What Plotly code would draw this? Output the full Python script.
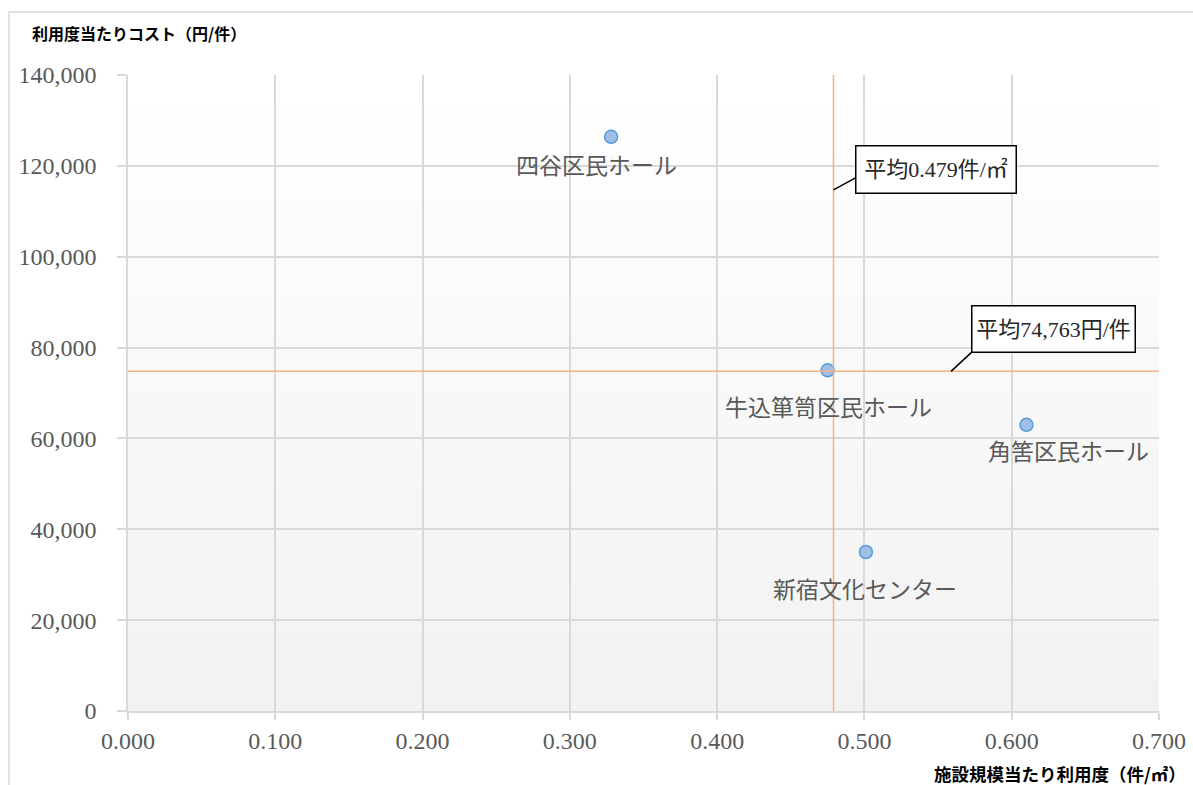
import plotly.graph_objects as go

# ---- data ----
names = ["四谷区民ホール", "牛込箪笥区民ホール", "角筈区民ホール", "新宿文化センター"]
usage = [0.328, 0.475, 0.610, 0.501]          # 件/㎡
cost = [126400, 75000, 63000, 35000]          # 円/件
avg_usage = 0.479
avg_cost = 74763
x_ticks = [0.0, 0.1, 0.2, 0.3, 0.4, 0.5, 0.6, 0.7]
y_ticks = [0, 20000, 40000, 60000, 80000, 100000, 120000, 140000]

# ---- styles ----
label_shift = [(-15, -30), (1, -38), (42, -28), (-1, -38)]  # px offsets of point labels
serif = "Liberation Serif, Noto Sans CJK JP, serif"
gothic = "Noto Sans CJK JP, sans-serif"
grey_text = "#595959"
grid = "#d9d9d9"
avg_color = "#f4b183"

W, H = 1193, 785
L, R, T, B = 128, 34, 75, 74

fig = go.Figure()
fig.add_trace(go.Scatter(
    x=usage, y=cost, mode="markers",
    marker=dict(size=13, color="#9fbfe8", line=dict(color="#5b9bd5", width=1.5)),
    hoverinfo="skip", showlegend=False,
))

shapes = []
# gradient plot background
n = 60
for i in range(n):
    t = i / (n - 1)
    v = round(255 - 13 * t)
    shapes.append(dict(type="rect", xref="paper", yref="paper",
                       x0=0, x1=1, y0=1 - (i + 1) / n, y1=1 - i / n + 0.002,
                       fillcolor=f"rgb({v},{v},{v})", line=dict(width=0), layer="below"))
# outer border
shapes.append(dict(type="rect", xref="paper", yref="paper",
                   x0=(9 - L) / (W - L - R), x1=(1205 - L) / (W - L - R),
                   y0=-(800 - (H - B)) / (H - T - B), y1=((H - B) - 12) / (H - T - B),
                   line=dict(color="#d9d9d9", width=1.5), layer="below"))
# average lines
shapes.append(dict(type="line", xref="x", yref="y", x0=avg_usage, x1=avg_usage,
                   y0=0, y1=140000, line=dict(color=avg_color, width=1.5)))
shapes.append(dict(type="line", xref="x", yref="y", x0=0, x1=0.7,
                   y0=avg_cost, y1=avg_cost, line=dict(color=avg_color, width=1.5)))
# leader lines
tip1 = (avg_usage, 114700)
tip2 = (0.5588, avg_cost)
shapes.append(dict(type="line", xsizemode="pixel", ysizemode="pixel",
                   xref="x", yref="y", xanchor=tip1[0], yanchor=tip1[1],
                   x0=0, x1=22, y0=0, y1=12, line=dict(color="black", width=1.5)))
shapes.append(dict(type="line", xsizemode="pixel", ysizemode="pixel",
                   xref="x", yref="y", xanchor=tip2[0], yanchor=tip2[1],
                   x0=0, x1=21, y0=0, y1=19.5, line=dict(color="black", width=1.5)))

annotations = []
for nm, xv, yv, (dx, dy) in zip(names, usage, cost, label_shift):
    annotations.append(dict(x=xv, y=yv, xref="x", yref="y", text=nm, showarrow=False,
                            xshift=dx, yshift=dy, font=dict(family=serif, size=23, color=grey_text)))
# average callouts
annotations.append(dict(x=tip1[0], y=tip1[1], xref="x", yref="y",
                        text=f"平均{avg_usage:.3f}件/㎡", showarrow=False,
                        xshift=102, yshift=20, width=159, height=46,
                        bordercolor="black", borderwidth=1.5, borderpad=0, bgcolor="white",
                        font=dict(family=serif, size=22, color="#262626")))
annotations.append(dict(x=tip2[0], y=tip2[1], xref="x", yref="y",
                        text=f"平均{avg_cost:,}円/件", showarrow=False,
                        xshift=102, yshift=42.5, width=162, height=45,
                        bordercolor="black", borderwidth=1.5, borderpad=0, bgcolor="white",
                        font=dict(family=serif, size=22, color="#262626")))
# axis titles
annotations.append(dict(xref="paper", yref="paper", x=(30 - L) / (W - L - R),
                        y=((H - B) - 33) / (H - T - B), xanchor="left", yanchor="middle",
                        text="<b>利用度当たりコスト（円/件）</b>", showarrow=False,
                        font=dict(family=gothic, size=16, color="black")))
annotations.append(dict(xref="paper", yref="paper", x=(1188 - L) / (W - L - R),
                        y=((H - B) - 773) / (H - T - B), xanchor="right", yanchor="middle",
                        text="<b>施設規模当たり利用度（件/㎡）</b>", showarrow=False,
                        font=dict(family=gothic, size=17.5, color="black")))

fig.update_layout(
    width=W, height=H, margin=dict(l=L, r=R, t=T, b=B, autoexpand=False),
    paper_bgcolor="white", plot_bgcolor="white",
    shapes=shapes, annotations=annotations, showlegend=False,
    xaxis=dict(range=[0, 0.7], tickvals=x_ticks, ticktext=[f"{v:.3f}" for v in x_ticks],
               showgrid=True, gridcolor=grid, gridwidth=1.5, zeroline=False,
               showline=True, linecolor=grid, linewidth=1.5, automargin=False,
               ticks="outside", ticklen=7, tickcolor=grid, tickwidth=1.5,
               tickfont=dict(family=serif, size=24, color=grey_text), fixedrange=True),
    yaxis=dict(range=[0, 140000], tickvals=y_ticks, ticktext=[f"{v:,}" for v in y_ticks],
               showgrid=True, gridcolor=grid, gridwidth=1.5, zeroline=False,
               showline=True, linecolor=grid, linewidth=1.5, automargin=False,
               ticks="outside", ticklen=9, tickcolor=grid, tickwidth=1.5,
               ticklabelstandoff=16,
               tickfont=dict(family=serif, size=24, color=grey_text), fixedrange=True),
)

fig.write_html("out.html")
